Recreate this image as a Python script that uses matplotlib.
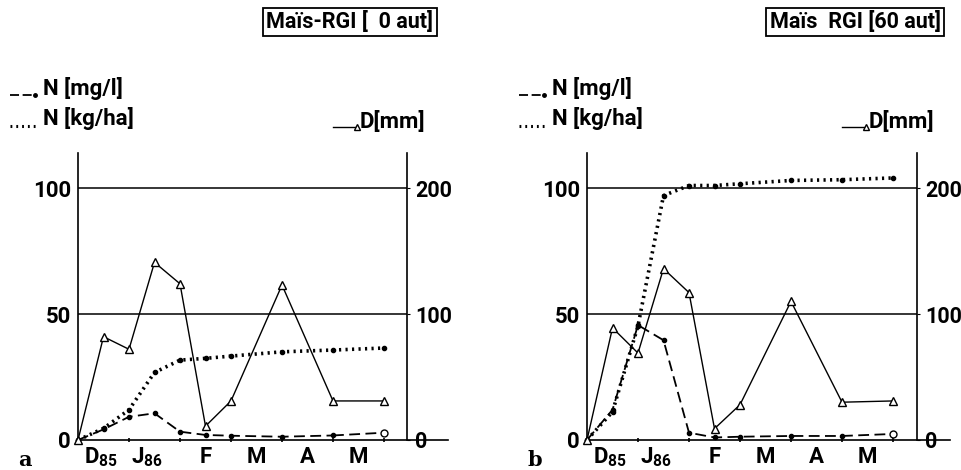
import matplotlib
matplotlib.use('Agg')
import matplotlib.pyplot as plt
from matplotlib.lines import Line2D

plt.rcParams['font.family'] = ['Roboto', 'DejaVu Sans']
plt.rcParams['font.weight'] = 'bold'
plt.rcParams['mathtext.fontset'] = 'custom'
plt.rcParams['mathtext.rm'] = 'Roboto:bold'

# positions en demi-mois depuis debut decembre 85
x = [0, 0.5, 1, 1.5, 2, 2.5, 3, 4, 5, 6]
mois = ['D$_{\\mathregular{85}}$', 'J$_{\\mathregular{86}}$', 'F', 'M', 'A', 'M']
mois_pos = [0.45, 1.35, 2.5, 3.5, 4.5, 5.5]

# panneau a : Mais-RGI (0 aut)
d_a = [0, 82, 72, 141, 124, 11, 31, 123, 31, 31]
nkg_a = [0, 4.6, 12, 26.8, 31.7, 32.4, 33.3, 35, 35.7, 36.5]
nmg_a = [0, 4.2, 9.2, 10.6, 3.3, 2.0, 1.7, 1.3, 1.8, 2.9]

# panneau b : Mais RGI (60 aut)
d_b = [0, 89, 69, 136, 117, 9, 28, 110, 30, 31]
nkg_b = [0, 11.2, 45.3, 97, 101, 101, 101.7, 103, 103.3, 104]
nmg_b = [0, 12, 45.6, 39.6, 2.9, 1.0, 1.3, 1.6, 1.6, 2.4]

titres = ['Maïs-RGI [  0 aut]', 'Maïs  RGI [60 aut]']
lettres = ['a', 'b']

W, H = 961, 470
fig = plt.figure(figsize=(W / 100, H / 100), dpi=100)

YTOP = 113.9

def panneau(left_px, xmax, xright, d, nkg, nmg, titre, lettre, title_cx):
    ax = fig.add_axes([left_px / W, 1 - 440 / H, xmax * 51 / W, (440 - 153) / H])
    ax.set_xlim(0, xmax)
    ax.set_ylim(0, YTOP)
    for s in ['top', 'right']:
        ax.spines[s].set_visible(False)
    ax.spines['left'].set_linewidth(1.2)
    ax.spines['bottom'].set_linewidth(1.2)
    ax.hlines([50, 100], 0, xright, color='black', lw=1.1)

    ax.set_yticks([0, 50, 100])
    ax.set_yticklabels(['0', '50', '100'])
    ax.tick_params(axis='y', length=0, pad=5, labelsize=16)
    ax.set_xticks(range(7))
    ax.set_xticklabels([])
    ax.tick_params(axis='x', which='major', length=3, direction='inout', width=1.2)
    ax.set_xticks(mois_pos, minor=True)
    ax.set_xticklabels(mois, minor=True)
    ax.tick_params(axis='x', which='minor', length=0, pad=4, labelsize=16)

    ax2 = ax.twinx()
    ax2.set_ylim(0, 2 * YTOP)
    for s in ['top', 'left', 'bottom']:
        ax2.spines[s].set_visible(False)
    ax2.spines['right'].set_position(('data', xright))
    ax2.spines['right'].set_linewidth(1.2)
    ax2.set_yticks([0, 100, 200])
    ax2.tick_params(axis='y', length=2, pad=4, labelsize=15.5)

    ax2.plot(x, d, color='black', lw=1.0, marker='^', ms=6,
             markerfacecolor='white', markeredgewidth=1.0, clip_on=False)
    ax.plot(x, nkg, color='black', lw=2.6, linestyle=(0, (0.6, 1.2)),
            marker='o', ms=3, clip_on=False)
    ax.plot(x[:-1], nmg[:-1], color='black', lw=1.3, linestyle=(0, (6, 3)),
            marker='o', ms=3, clip_on=False)
    ax.plot(x[-2:], nmg[-2:], color='black', lw=1.3, linestyle=(0, (6, 3)))
    ax.plot(x[-1], nmg[-1], marker='o', ms=5, markerfacecolor='white',
            markeredgecolor='black', clip_on=False)

    # titre encadre
    fig.text(title_cx / W, 1 - 22 / H, titre, ha='center', va='center', fontsize=15.5,
             bbox=dict(boxstyle='square,pad=0.15', facecolor='white',
                       edgecolor='black', linewidth=1.3))
    # legende
    lx = left_px - 68
    fig.add_artist(Line2D([lx / W, (lx + 14) / W, (lx + 25) / W],
                          [1 - 95 / H] * 3, color='black', lw=1.3,
                          linestyle=(0, (5, 2)), marker='o', markevery=[2], ms=2.5))
    fig.text((lx + 33) / W, 1 - 88 / H, 'N [mg/l]', ha='left', va='center', fontsize=16)
    fig.add_artist(Line2D([lx / W, (lx + 27) / W], [1 - 126 / H, 1 - 126 / H],
                          color='black', lw=2.2, linestyle=(0, (0.6, 1.3))))
    fig.text((lx + 33) / W, 1 - 119 / H, 'N [kg/ha]', ha='left', va='center', fontsize=16)
    dx = left_px + 255
    fig.add_artist(Line2D([dx / W, (dx + 24) / W], [1 - 127 / H, 1 - 127 / H],
                          color='black', lw=1.0, marker='^', markevery=[1], ms=4,
                          markerfacecolor='white'))
    fig.text((dx + 27) / W, 1 - 122 / H, 'D[mm]', ha='left', va='center', fontsize=16)
    # lettre du panneau
    fig.text((left_px - 60) / W, 1 - 460 / H, lettre, ha='left', va='center',
             fontsize=15, family='DejaVu Serif', weight='bold')
    return ax

panneau(78, 7.25, 6.45, d_a, nkg_a, nmg_a, titres[0], lettres[0], 350)
panneau(587, 7.12, 6.47, d_b, nkg_b, nmg_b, titres[1], lettres[1], 855)

fig.savefig('out.png', dpi=100)
